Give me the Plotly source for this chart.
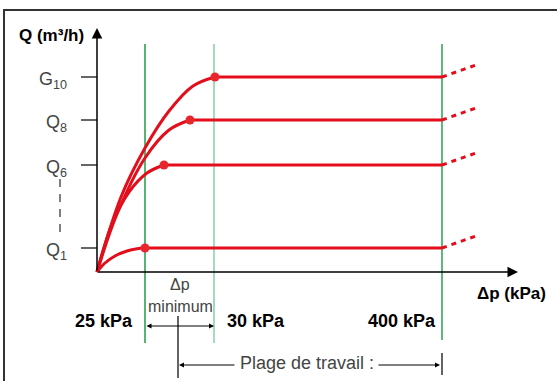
import plotly.graph_objects as go

# ---- data (schematic units: x = Δp position, y = flow level) ----
flow_labels = ["Q<sub>1</sub>", "Q<sub>6</sub>", "Q<sub>8</sub>", "G<sub>10</sub>"]
flow_levels = [24, 107, 152, 195]
knee_dp = [48, 67, 93, 118]
curve_dp = [
    [0, 8, 18, 30, 40, 48],
    [0, 15, 32, 50, 67],
    [0, 20, 48, 72, 93],
    [0, 24, 48, 72, 96, 118],
]
curve_q = [
    [0, 9, 16, 21, 23.3, 24],
    [0, 48, 80, 99, 107],
    [0, 58, 114, 142, 152],
    [0, 75, 124, 161, 186, 195],
]
limit_dp = [48, 117, 345]
limit_labels = ["25 kPa", "30 kPa", "400 kPa"]
limit_colors = ["#1f9d45", "#86cfa2", "#2a9f4f"]
ext_dp_end = 379
ext_rise = 12

RED = "#e30e1c"
FONT = "Liberation Sans, Arial, sans-serif"

fig = go.Figure()

# curves
for xs, ys in zip(curve_dp, curve_q):
    fig.add_trace(go.Scatter(x=xs, y=ys, mode="lines",
                             line=dict(color=RED, width=3, shape="spline", smoothing=1),
                             hoverinfo="skip", showlegend=False))
# flat parts
for k, q in zip(knee_dp, flow_levels):
    fig.add_trace(go.Scatter(x=[k, limit_dp[2]], y=[q, q], mode="lines",
                             line=dict(color=RED, width=3), hoverinfo="skip", showlegend=False))
    fig.add_trace(go.Scatter(x=[limit_dp[2], ext_dp_end], y=[q, q + ext_rise], mode="lines",
                             line=dict(color=RED, width=3, dash="5px,5px"),
                             hoverinfo="skip", showlegend=False))
# knee dots
fig.add_trace(go.Scatter(x=knee_dp, y=flow_levels, mode="markers",
                         marker=dict(color="#e8262c", size=9), hoverinfo="skip", showlegend=False))

shapes = []
# frame
shapes.append(dict(type="line", x0=-94, y0=262, x1=460, y1=262, line=dict(color="#333", width=2)))
shapes.append(dict(type="line", x0=-93, y0=262, x1=-93, y1=-112, line=dict(color="#333", width=2)))
# green limit lines
for d, c, yb in zip(limit_dp, limit_colors, [-71, -71, -68]):
    shapes.append(dict(type="line", x0=d, y0=228, x1=d, y1=yb, line=dict(color=c, width=1.5), layer="below"))
# ticks
for q in flow_levels:
    shapes.append(dict(type="line", x0=-16, y0=q, x1=0, y1=q, line=dict(color="#333", width=1.5)))
# dashed ellipsis between Q6 and Q1
shapes.append(dict(type="line", x0=-37, y0=93, x1=-37, y1=40, line=dict(color="#555", width=1.5, dash="8px,7px")))
# vertical markers for working range
shapes.append(dict(type="line", x0=81, y0=-44, x1=81, y1=-106, line=dict(color="#111", width=1.3)))
shapes.append(dict(type="line", x0=345, y0=-81, x1=345, y1=-103, line=dict(color="#111", width=1.3)))

ann = []
def arrow(x, y, ax, ay, width=1.5, size=1.0, head=2, side="end"):
    ann.append(dict(x=x, y=y, ax=ax, ay=ay, xref="x", yref="y", axref="x", ayref="y",
                    text="", showarrow=True, arrowhead=head, arrowwidth=width, arrowsize=size,
                    arrowcolor="#000", standoff=0, startstandoff=0, arrowside=side,
                    startarrowhead=head, startarrowsize=size))

# axes
arrow(0, 244, 0, 0, width=1.5, size=1.4)
arrow(421, 0, 0, 0, width=1.5, size=1.4)
# Δp minimum double arrow
arrow(117, -54, 48, -54, width=1, size=1.0, side="end+start")
# working range arrows
arrow(82, -93, 139, -93, width=1, size=1.0)
arrow(343, -93, 280, -93, width=1, size=1.0)

def text(x, y, t, size=16, bold=False, color="#000", xanchor="center"):
    ann.append(dict(x=x, y=y, xref="x", yref="y", text=f"<b>{t}</b>" if bold else t,
                    showarrow=False, xanchor=xanchor, yanchor="middle",
                    font=dict(family=FONT, size=size, color=color)))

text(-80, 237, "Q (m³/h)", size=17, bold=True, xanchor="left")
text(378, -21, "Δp (kPa)", size=17, bold=True, xanchor="left")
for d, lab, xc in zip(limit_dp, limit_labels, [7, 159, 305]):
    text(xc, -49, lab, size=18, bold=True)
text(83, -12, "Δp", size=16, color="#444")
text(83, -34, "minimum", size=16, color="#444")
text(141, -91, "Plage de travail :", size=18, color="#444", xanchor="left")
for lab, q in zip(flow_labels, flow_levels):
    text(-28, q - 3, lab, size=18, color="#444", xanchor="right")

fig.update_layout(
    width=557, height=381, autosize=False,
    margin=dict(l=0, r=0, t=0, b=0, pad=0),
    paper_bgcolor="white", plot_bgcolor="white",
    xaxis=dict(range=[-97, 460], visible=False, fixedrange=True),
    yaxis=dict(range=[-109, 272], visible=False, fixedrange=True),
    shapes=shapes, annotations=ann, showlegend=False,
)
fig.write_html("out.html", config=dict(displayModeBar=False),
               post_script="document.body.style.margin='0';document.body.style.overflow='hidden';")
